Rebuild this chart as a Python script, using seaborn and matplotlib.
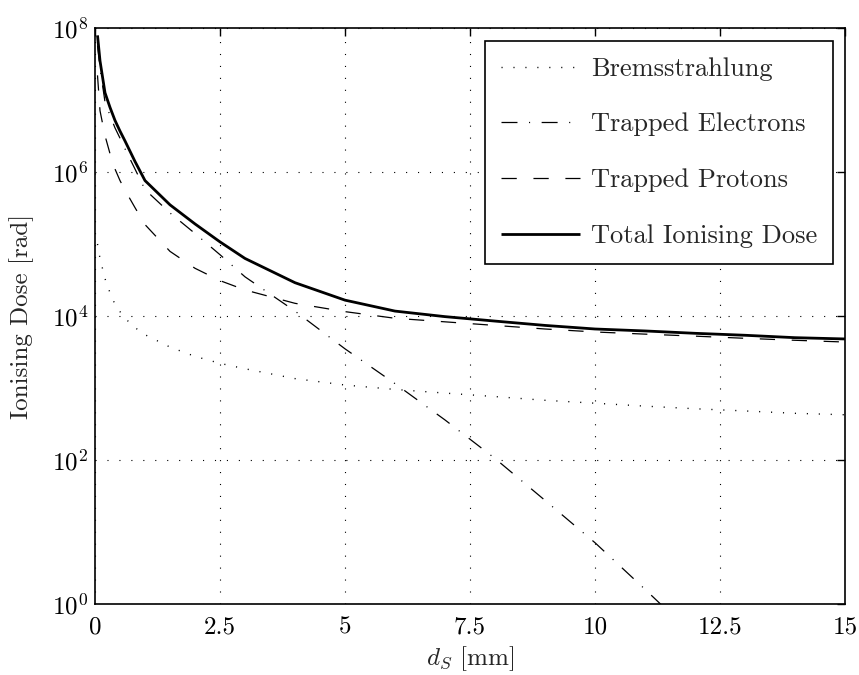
import matplotlib
matplotlib.use("Agg")
import matplotlib.pyplot as plt
import seaborn as sns
import pandas as pd
from matplotlib.ticker import FixedLocator, LogFormatterMathtext

# Shielding thickness d_S [mm]
thickness = [0.05, 0.1, 0.2, 0.3, 0.4, 0.5, 0.6, 0.8, 1.0, 1.5, 2.0, 2.5, 3.0,
             4.0, 5.0, 6.0, 7.0, 8.0, 9.0, 10.0, 11.0, 12.0, 13.0, 14.0, 15.0]

bremsstrahlung = [1.0e5, 6.3e4, 3.3e4, 2.1e4, 1.45e4, 1.15e4, 9.3e3, 6.9e3, 5.5e3,
                  3.7e3, 2.75e3, 2.2e3, 1.85e3, 1.35e3, 1.1e3, 955, 850, 760, 675,
                  615, 560, 515, 480, 445, 425]

trapped_electrons = [5.7e7, 2.8e7, 9.4e6, 6.1e6, 4.1e6, 2.95e6, 2.1e6, 1.1e6, 5.7e5,
                     2.7e5, 1.4e5, 7.1e4, 3.5e4, 1.17e4, 3.5e3, 1.15e3, 360, 105,
                     27.5, 7.1, 1.6, 0.35, 0.08, 0.016, 0.003]

trapped_protons = [2.2e7, 7.1e6, 3.2e6, 1.8e6, 1.1e6, 7.6e5, 5.6e5, 3.2e5, 1.86e5,
                   7.9e4, 4.6e4, 3.1e4, 2.3e4, 1.5e4, 1.15e4, 9.3e3, 8.3e3, 7.4e3,
                   6.6e3, 6.0e3, 5.6e3, 5.25e3, 4.9e3, 4.6e3, 4.35e3]

total_dose = [7.9e7, 3.5e7, 1.26e7, 7.9e6, 5.2e6, 3.7e6, 2.7e6, 1.4e6, 7.6e5,
              3.5e5, 1.9e5, 1.07e5, 6.3e4, 2.9e4, 1.66e4, 1.17e4, 9.8e3, 8.5e3,
              7.4e3, 6.6e3, 6.2e3, 5.75e3, 5.4e3, 5.0e3, 4.8e3]

series_labels = ["Bremsstrahlung", "Trapped Electrons", "Trapped Protons", "Total Ionising Dose"]
x_ticks = [0, 2.5, 5, 7.5, 10, 12.5, 15]
x_tick_labels = ["0", "2.5", "5", "7.5", "10", "12.5", "15"]
y_ticks = [1e0, 1e2, 1e4, 1e6, 1e8]

sns.set_style("white")
plt.rcParams["font.family"] = ["cmr10", "DejaVu Serif"]
plt.rcParams["mathtext.fontset"] = "cm"
plt.rcParams["axes.unicode_minus"] = False
plt.rcParams["axes.formatter.use_mathtext"] = True
plt.rcParams["lines.scale_dashes"] = False

df = pd.DataFrame({
    "d": thickness,
    series_labels[0]: bremsstrahlung,
    series_labels[1]: trapped_electrons,
    series_labels[2]: trapped_protons,
    series_labels[3]: total_dose,
})

fig = plt.figure(figsize=(8.59, 6.75), dpi=100)
ax = fig.add_axes([95 / 859, 1 - 604 / 675, 750 / 859, 576 / 675])

styles = {
    series_labels[0]: dict(lw=1.0, dashes=(0.8, 7.8)),
    series_labels[1]: dict(lw=0.9, dashes=(11.5, 8.3, 0.8, 8.3)),
    series_labels[2]: dict(lw=0.9, dashes=(11.0, 12.0)),
    series_labels[3]: dict(lw=2.0, dashes=None),
}

for name in series_labels:
    st = styles[name]
    sns.lineplot(data=df, x="d", y=name, ax=ax, color="black",
                 linewidth=st["lw"], label=name, zorder=3)
    ln = ax.lines[-1]
    if st["dashes"] is not None:
        ln.set_dashes(st["dashes"])
    ln.set_solid_capstyle("butt")
    ln.set_dash_capstyle("butt")

ax.set_yscale("log")
ax.set_xlim(0, 15)
ax.set_ylim(1e0, 1e8)
ax.xaxis.set_major_locator(FixedLocator(x_ticks))
ax.set_xticklabels(x_tick_labels)
ax.yaxis.set_major_locator(FixedLocator(y_ticks))
ax.yaxis.set_major_formatter(LogFormatterMathtext())
ax.yaxis.set_minor_locator(FixedLocator([]))

ax.grid(True, which="major", color="black", linewidth=0.8,
        linestyle=(0, (0.8, 7.8)), zorder=1)
ax.set_axisbelow(True)

ax.tick_params(axis="both", which="major", direction="in", length=6, width=1.0,
               top=True, right=True, labelsize=18, colors="black")
ax.tick_params(axis="x", which="major", pad=9)
ax.tick_params(axis="y", which="major", pad=5)
for sp in ax.spines.values():
    sp.set_color("black")
    sp.set_linewidth(1.2)

ax.set_xlabel(r"$d_S$ [mm]", fontsize=18, labelpad=4)
ax.set_ylabel("Ionising Dose [rad]", fontsize=18)
ax.yaxis.set_label_coords(-0.081, 0.5)

leg = ax.legend(loc="upper right", bbox_to_anchor=(0.984, 0.977), fontsize=19,
                frameon=True, fancybox=False, framealpha=1, edgecolor="black",
                handlelength=3.0, handletextpad=0.4, labelspacing=1.21,
                borderpad=0.6, borderaxespad=0)
leg.get_frame().set_linewidth(1.2)

fig.savefig("out.png", dpi=100)
